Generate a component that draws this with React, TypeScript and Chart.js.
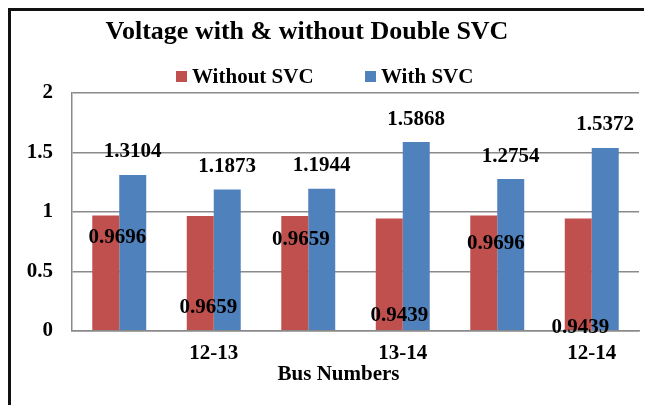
import React, { useEffect, useRef } from "react";
import { Chart, registerables } from "chart.js";

Chart.register(...registerables);

// ---- data ----
const categories = ["", "12-13", "", "13-14", "", "12-14"];
const withoutSVC = [0.9696, 0.9659, 0.9659, 0.9439, 0.9696, 0.9439];
const withSVC = [1.3104, 1.1873, 1.1944, 1.5868, 1.2754, 1.5372];
const yTicks = [0, 0.5, 1, 1.5, 2];
const yTickLabels = ["0", "0.5", "1", "1.5", "2"];
const seriesNames = ["Without SVC", "With SVC"];
const titleText = "Voltage with & without Double SVC";
const xTitleText = "Bus Numbers";

// ---- styling ----
const RED = "#C0504D";
const BLUE = "#4F81BD";
const GRID = "#8a8a8a";
const FONT = "'Liberation Serif', 'Times New Roman', serif";
// manual placement of the "Without SVC" value labels (px from bar centre / bar top)
const redLabelShift: [number, number][] = [
  [11.5, 22],
  [8, 92],
  [6, 24],
  [10, 97],
  [12, 28],
  [2, 109],
];

const decor = {
  id: "decor",
  afterDatasetsDraw(chart: any) {
    const ctx: CanvasRenderingContext2D = chart.ctx;
    ctx.save();
    ctx.fillStyle = "#000";
    ctx.textAlign = "center";
    ctx.textBaseline = "middle";
    ctx.font = `bold 21px ${FONT}`;
    const m0 = chart.getDatasetMeta(0);
    const m1 = chart.getDatasetMeta(1);
    m1.data.forEach((bar: any, i: number) => {
      ctx.fillText(withSVC[i].toFixed(4), bar.x, bar.y - 23);
    });
    m0.data.forEach((bar: any, i: number) => {
      const [dx, dy] = redLabelShift[i];
      ctx.fillText(withoutSVC[i].toFixed(4), bar.x + dx, bar.y + dy);
    });

    // title
    ctx.textBaseline = "alphabetic";
    ctx.font = `bold 26px ${FONT}`;
    ctx.fillText(titleText, 296, 28);

    // legend
    ctx.font = `bold 21px ${FONT}`;
    ctx.textAlign = "left";
    const items = [
      { name: seriesNames[0], color: RED, x: 165 },
      { name: seriesNames[1], color: BLUE, x: 354 },
    ];
    items.forEach((it) => {
      ctx.fillStyle = it.color;
      ctx.fillRect(it.x, 60, 11, 11);
      ctx.fillStyle = "#000";
      ctx.fillText(it.name, it.x + 16, 72);
    });

    // x axis title
    ctx.textAlign = "center";
    ctx.font = `bold 21px ${FONT}`;
    ctx.fillText(xTitleText, 327.5, 369);
    ctx.restore();
  },
};

export default function App() {
  const ref = useRef<HTMLCanvasElement>(null);
  useEffect(() => {
    if (!ref.current) return;
    const chart = new Chart(ref.current, {
      type: "bar",
      data: {
        labels: categories,
        datasets: [
          { label: seriesNames[0], data: withoutSVC, backgroundColor: RED },
          { label: seriesNames[1], data: withSVC, backgroundColor: BLUE },
        ],
      },
      options: {
        responsive: false,
        animation: false,
        layout: { padding: { top: 82, right: 13, left: 0, bottom: 0 } },
        datasets: { bar: { categoryPercentage: 0.571, barPercentage: 1 } },
        plugins: {
          legend: { display: false },
          title: { display: false },
          tooltip: { enabled: false },
        },
        scales: {
          x: {
            grid: { display: false, drawTicks: false },
            border: { display: true, color: GRID, width: 1.5 },
            ticks: {
              autoSkip: false,
              maxRotation: 0,
              padding: 10,
              color: "#000",
              font: { family: FONT, size: 21, weight: "bold" },
            },
            afterFit: (s: any) => {
              s.height = 74.3;
            },
          },
          y: {
            min: 0,
            max: 2,
            afterBuildTicks: (s: any) => {
              s.ticks = yTicks.map((v) => ({ value: v }));
            },
            grid: { color: GRID, lineWidth: 1.5, drawTicks: false },
            border: { display: true, color: GRID, width: 1.5 },
            ticks: {
              padding: 19,
              color: "#000",
              font: { family: FONT, size: 21, weight: "bold" },
              callback: (_v: any, i: number) => yTickLabels[i],
            },
            afterFit: (s: any) => {
              s.width = 61;
            },
          },
        },
      },
      plugins: [decor],
    } as any);
    return () => chart.destroy();
  }, []);

  return (
    <div
      style={{
        width: 641,
        height: 394,
        borderLeft: "3px solid #111",
        borderTop: "3px solid #111",
      }}
    >
      <canvas ref={ref} width={641} height={394} style={{ display: "block" }} />
    </div>
  );
}
